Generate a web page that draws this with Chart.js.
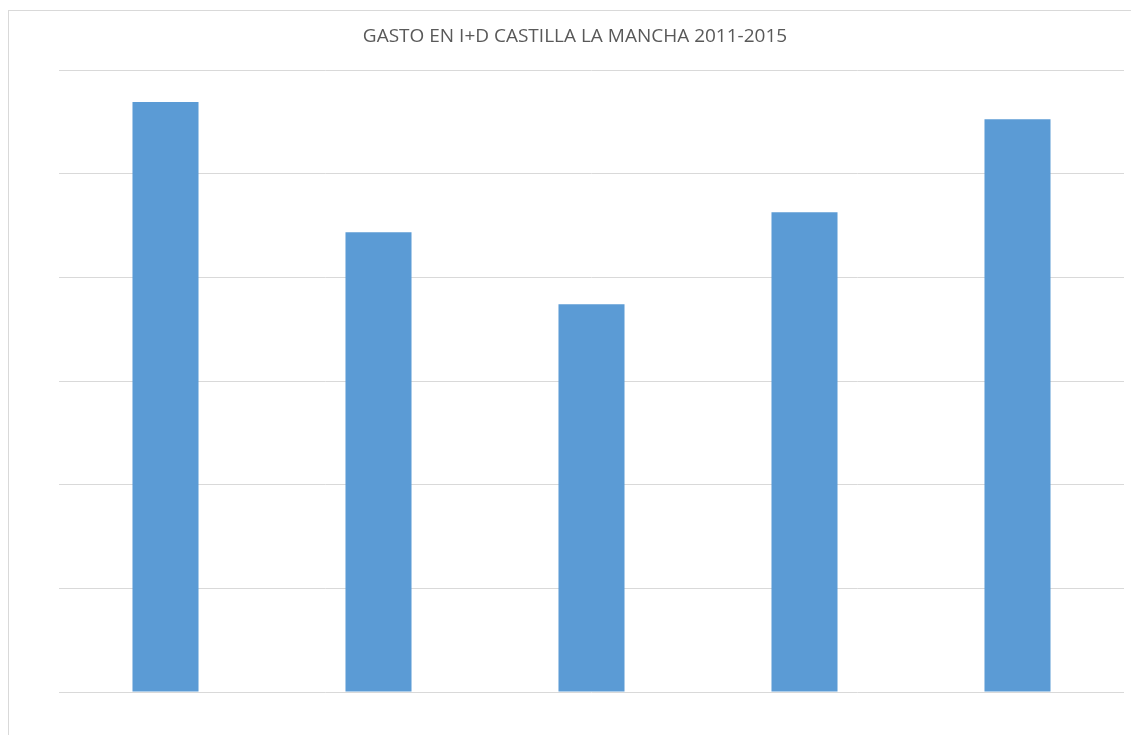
<!DOCTYPE html>
<html>
<head>
<meta charset="utf-8">
<script src="https://cdn.jsdelivr.net/npm/chart.js@4"></script>
<style>
  html, body { margin: 0; padding: 0; background: #fff; overflow: hidden; }
  #frame { position: absolute; left: 8px; top: 10px; width: 1140px; height: 740px; border: 1px solid #d9d9d9; }
  #wrap { position: absolute; left: 0; top: 0; width: 1131px; height: 735px; }
</style>
</head>
<body>
<div id="frame"></div>
<div id="wrap"><canvas id="c" width="1131" height="735"></canvas></div>
<script>
const categories = ["2011", "2012", "2013", "2014", "2015"];
const gasto = [227.7, 177.5, 149.7, 185.2, 221.1];
const yMax = 240;
const yStep = 40;
const chartTitle = "GASTO EN I+D CASTILLA LA MANCHA 2011-2015";

new Chart(document.getElementById("c"), {
  type: "bar",
  data: {
    labels: categories,
    datasets: [{
      label: "Gasto",
      data: gasto,
      backgroundColor: "#5b9bd5",
      borderWidth: 0,
      categoryPercentage: 1,
      barPercentage: 0.31
    }]
  },
  options: {
    responsive: false,
    animation: false,
    layout: { padding: { left: 26, right: 7, top: 0, bottom: 43 } },
    plugins: {
      legend: { display: false },
      tooltip: { enabled: false },
      title: {
        display: true,
        text: chartTitle,
        color: "#595959",
        font: { family: "Open Sans", size: 19, weight: "normal" },
        padding: { top: 25, bottom: 22.4 }
      }
    },
    scales: {
      x: { display: false },
      y: {
        min: 0, max: yMax,
        ticks: { display: false, stepSize: yStep },
        border: { display: false },
        grid: { color: "#d9d9d9", lineWidth: 1, drawTicks: false },
        afterFit: (s) => { s.width = 33; }
      }
    }
  }
});
</script>
</body>
</html>
